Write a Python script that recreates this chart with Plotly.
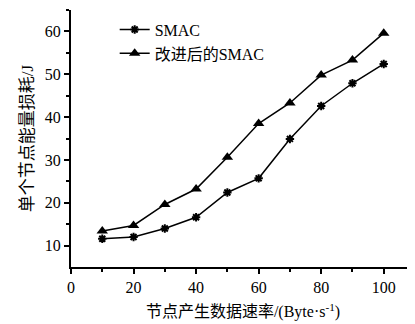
import plotly.graph_objects as go

rates = [10, 20, 30, 40, 50, 60, 70, 80, 90, 100]
smac = [11.6, 12.0, 14.0, 16.6, 22.4, 25.7, 34.9, 42.6, 47.9, 52.4]
smac_improved = [13.4, 14.7, 19.6, 23.2, 30.6, 38.5, 43.3, 49.8, 53.3, 59.6]
series_names = ["SMAC", "改进后的SMAC"]

font_fam = "Liberation Serif, Noto Sans CJK SC, serif"

fig = go.Figure()
fig.add_trace(go.Scatter(
    x=rates, y=smac, name=series_names[0], mode="lines+markers",
    line=dict(color="black", width=1.5),
    marker=dict(symbol="asterisk-open", size=7, color="black", line=dict(width=2, color="black")),
    legendgroup="a",
))
fig.add_trace(go.Scatter(
    x=rates, y=smac_improved, name=series_names[1], mode="lines+markers",
    line=dict(color="black", width=1.5),
    marker=dict(symbol="triangle-up", size=10, color="black"),
    legendgroup="b",
))

# page body has an 8px default margin, so the figure is offset by 8px
fig.update_layout(
    width=407, height=316,
    margin=dict(l=63, r=0, t=2, b=57),
    paper_bgcolor="white", plot_bgcolor="white",
    font=dict(family=font_fam, color="black", size=13),
    showlegend=True,
    legend=dict(
        x=0.127, y=0.99, xanchor="left", yanchor="top",
        bgcolor="rgba(0,0,0,0)", font=dict(size=16, family=font_fam),
        traceorder="grouped", tracegroupgap=0, itemwidth=30,
    ),
    xaxis=dict(
        range=[0, 110], tickvals=[0, 20, 40, 60, 80, 100],
        ticks="outside", ticklen=5, tickwidth=1.5, tickcolor="black",
        showline=True, linecolor="black", linewidth=2, showgrid=False, zeroline=False,
        minor=dict(tickvals=[10, 30, 50, 70, 90, 110], ticks="outside", ticklen=3, tickcolor="black", tickwidth=1.5),
        tickfont=dict(size=16, family=font_fam),
        title=dict(text="节点产生数据速率/(Byte·s<sup>-1</sup>)", font=dict(size=16, family=font_fam), standoff=11),
    ),
    yaxis=dict(
        range=[5, 65], tickvals=[10, 20, 30, 40, 50, 60],
        ticks="outside", ticklen=5, tickwidth=1.5, tickcolor="black",
        showline=True, linecolor="black", linewidth=2, showgrid=False, zeroline=False,
        minor=dict(tickvals=[15, 25, 35, 45, 55, 65], ticks="outside", ticklen=3, tickcolor="black", tickwidth=1.5),
        tickfont=dict(size=16, family=font_fam),
        title=dict(text="单个节点能量损耗/J", font=dict(size=17, family=font_fam), standoff=7),
    ),
)

fig.write_html("out.html")
